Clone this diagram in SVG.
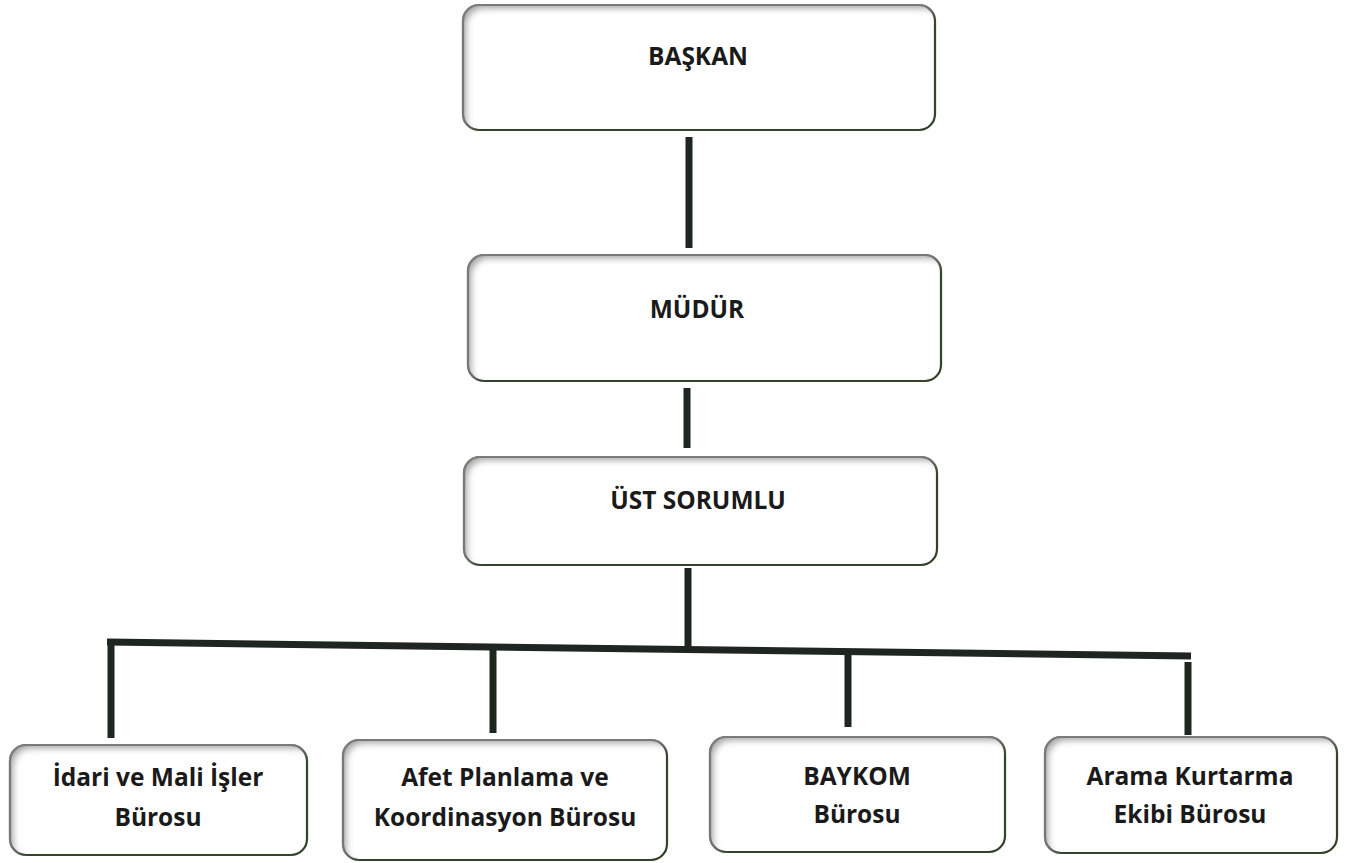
<svg xmlns="http://www.w3.org/2000/svg" width="1345" height="863" viewBox="0 0 1345 863">
<defs>
<filter id="inner" x="-5%" y="-5%" width="110%" height="110%">
<feGaussianBlur in="SourceAlpha" stdDeviation="3" result="b"/>
<feOffset dx="5" dy="5" result="o"/>
<feComposite in="SourceAlpha" in2="o" operator="out" result="s"/>
<feFlood flood-color="#8a8a8a" flood-opacity="0.8"/>
<feComposite in2="s" operator="in" result="sh"/>
<feMerge><feMergeNode in="SourceGraphic"/><feMergeNode in="sh"/></feMerge>
</filter>
</defs>
<style>
.box{fill:#ffffff;stroke:#33432c;stroke-width:2.2;filter:url(#inner)}
.t{font-family:"Open Sans","Liberation Sans",sans-serif;font-weight:700;font-size:24.5px;fill:#1a1a1a;text-anchor:middle}
.c{stroke:#1f2620;stroke-width:7;fill:none;stroke-linecap:butt}
</style>
<rect width="1345" height="863" fill="#ffffff"/>
<g id="connectors">
<line class="c" x1="689" y1="137" x2="689" y2="248"/>
<line class="c" x1="687" y1="388" x2="687" y2="448"/>
<line class="c" x1="688" y1="568" x2="688" y2="648"/>
<line class="c" x1="107" y1="642" x2="1191" y2="656" stroke-width="8"/>
<line class="c" x1="111" y1="641" x2="111" y2="738"/>
<line class="c" x1="493" y1="648" x2="493" y2="733"/>
<line class="c" x1="848" y1="653" x2="848" y2="727"/>
<line class="c" x1="1188" y1="662" x2="1188" y2="735"/>
</g>
<g id="baskan">
<rect class="box" x="463" y="5" width="472" height="125" rx="16"/>
<text class="t" x="698" y="65">BAŞKAN</text>
</g>
<g id="mudur">
<rect class="box" x="468" y="255" width="473" height="126" rx="16"/>
<text class="t" x="697" y="318">MÜDÜR</text>
</g>
<g id="ust-sorumlu">
<rect class="box" x="464" y="457" width="473" height="108" rx="16"/>
<text class="t" x="698" y="509">ÜST SORUMLU</text>
</g>
<g id="idari">
<rect class="box" x="10" y="745" width="297" height="110" rx="16"/>
<text class="t" x="158" y="786">İdari ve Mali İşler</text>
<text class="t" x="158" y="826">Bürosu</text>
</g>
<g id="afet">
<rect class="box" x="343" y="740" width="324" height="120" rx="16"/>
<text class="t" x="505" y="786">Afet Planlama ve</text>
<text class="t" x="505" y="826">Koordinasyon Bürosu</text>
</g>
<g id="baykom">
<rect class="box" x="710" y="737" width="295" height="115" rx="16"/>
<text class="t" x="857" y="785">BAYKOM</text>
<text class="t" x="857" y="823">Bürosu</text>
</g>
<g id="arama">
<rect class="box" x="1045" y="737" width="292" height="116" rx="16"/>
<text class="t" x="1190" y="785">Arama Kurtarma</text>
<text class="t" x="1190" y="823">Ekibi Bürosu</text>
</g>
</svg>
